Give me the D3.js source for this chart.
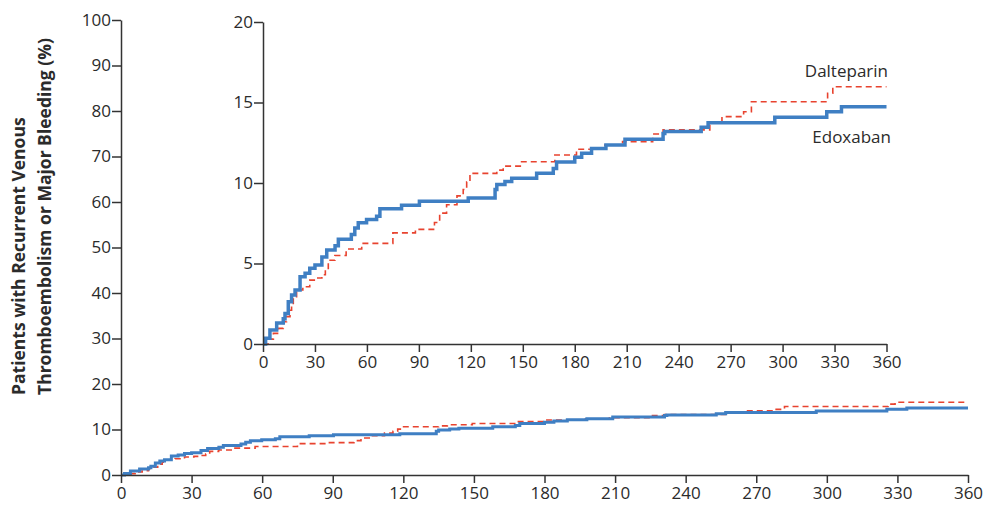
<!DOCTYPE html>
<html>
<head>
<meta charset="utf-8">
<script src="https://cdn.jsdelivr.net/npm/d3@7"></script>
<style>
  body { margin: 0; background: #fff; }
  svg text { font-family: "Open Sans", sans-serif; fill: #2b2b2b; }
</style>
</head>
<body>
<div class="main"></div>
<script>
// Edoxaban step curve (day of event, cumulative %)
const edoxDays = [0, 1.5, 4, 7.9, 11.7, 12.7, 14.6, 16.5, 18.5, 21.4, 24.3, 27, 30, 34, 36.8, 41.6, 43.5,
  51, 53, 55, 59.8, 65.6, 67.5, 80, 90.3, 118.5, 134, 135, 139.7, 143.6, 158, 167.6, 169.5,
  180, 184, 189.7, 198, 209, 231, 232, 253, 257, 295.5, 325.5, 334, 360];
const edoxVals = [0, 0.35, 0.87, 1.31, 1.57, 1.9, 2.63, 3.05, 3.35, 4.17, 4.4, 4.7, 4.9, 5.4, 5.84, 6.1, 6.5,
  6.8, 7.2, 7.53, 7.74, 7.94, 8.4, 8.62, 8.87, 9.07, 9.6, 9.9, 10.1, 10.3, 10.6, 10.9, 11.3,
  11.6, 11.85, 12.15, 12.36, 12.72, 13.08, 13.2, 13.46, 13.75, 14.08, 14.43, 14.74, 14.74];

// Dalteparin step curve
const daltDays = [0, 3, 6, 9, 11.7, 13.6, 15.6, 16.5, 17.5, 19.4, 23, 27, 31, 34, 36, 37.7, 41.5, 48,
  57, 75, 88, 99, 102, 106, 112, 115.6, 117.6, 119.5, 135, 138.7, 149.3, 168.5, 181, 197.4,
  207.6, 225, 231, 258, 265, 277.5, 282, 326, 329, 360];
const daltVals = [0, 0.3, 0.66, 0.97, 1.39, 1.7, 2.1, 2.4, 2.84, 3.35, 3.56, 3.97, 4.1, 4.3, 4.6, 5.2, 5.5, 5.9,
  6.25, 6.9, 7.12, 7.55, 8.13, 8.65, 9.2, 9.6, 10.08, 10.6, 10.8, 11.05, 11.32, 11.74, 12.1, 12.36,
  12.57, 13.04, 13.3, 13.73, 14.12, 14.43, 15.05, 15.57, 15.98, 15.98];

const xTicks = [0, 30, 60, 90, 120, 150, 180, 210, 240, 270, 300, 330, 360];
const mainYTicks = [0, 10, 20, 30, 40, 50, 60, 70, 80, 90, 100];
const insetYTicks = [0, 5, 10, 15, 20];
const seriesNames = ["Dalteparin", "Edoxaban"];

const blue = "#3f7fc3";
const red = "#e8432f";

const svg = d3.select('.main').append('svg')
    .attr("width", 1003)
    .attr("height", 523);

const edox = edoxDays.map((d, i) => [d, edoxVals[i]]);
const dalt = daltDays.map((d, i) => [d, daltVals[i]]);

function drawPanel(g, xScale, yScale, yTicks, blueWidth) {
  let xAxis = d3.axisBottom(xScale).tickValues(xTicks).tickSize(8).tickSizeOuter(0).tickPadding(4);
  let yAxis = d3.axisLeft(yScale).tickValues(yTicks).tickSize(9).tickSizeOuter(0).tickPadding(1);

  let line = d3.line()
      .x(d => xScale(d[0]))
      .y(d => yScale(d[1]))
      .curve(d3.curveStepAfter);

  g.append("path")
      .datum(dalt)
      .attr("fill", "none")
      .attr("stroke", red)
      .attr("stroke-width", 1.6)
      .attr("stroke-dasharray", "6,4")
      .attr("d", line);

  g.append("path")
      .datum(edox)
      .attr("fill", "none")
      .attr("stroke", blue)
      .attr("stroke-width", blueWidth)
      .attr("d", line);

  let gx = g.append("g")
      .attr("transform", "translate(0," + yScale(0) + ")")
      .call(xAxis);
  let gy = g.append("g")
      .attr("transform", "translate(" + xScale(0) + ",0)")
      .call(yAxis);

  [gx, gy].forEach(a => {
    a.selectAll("path, line").attr("stroke", "#333").attr("stroke-width", 1.5);
    a.selectAll("text").style("font-size", "17px").attr("fill", "#2b2b2b");
  });
}

// main chart
let xMain = d3.scaleLinear().domain([0, 360]).range([121, 968]);
let yMain = d3.scaleLinear().domain([0, 100]).range([475, 20]);
drawPanel(svg.append("g"), xMain, yMain, mainYTicks, 3);

// inset chart
let xInset = d3.scaleLinear().domain([0, 360]).range([263, 886.5]);
let yInset = d3.scaleLinear().domain([0, 20]).range([344, 22]);
drawPanel(svg.append("g"), xInset, yInset, insetYTicks, 3.5);

// series labels
svg.append("text")
    .attr("x", 888)
    .attr("y", yInset(16.6))
    .attr("text-anchor", "end")
    .style("font-size", "17px")
    .text(seriesNames[0]);

svg.append("text")
    .attr("x", 891)
    .attr("y", yInset(12.5))
    .attr("text-anchor", "end")
    .style("font-size", "17px")
    .text(seriesNames[1]);

// y-axis title (two lines, rotated)
const title = svg.append("text")
    .attr("transform", "translate(0,395) rotate(-90)")
    .attr("text-anchor", "start")
    .style("font-size", "17.5px")
    .style("font-weight", "bold");
title.append("tspan").attr("x", 0).attr("y", 25).text("Patients with Recurrent Venous");
title.append("tspan").attr("x", 0).attr("y", 51).text("Thromboembolism or Major Bleeding (%)");
</script>
</body>
</html>
